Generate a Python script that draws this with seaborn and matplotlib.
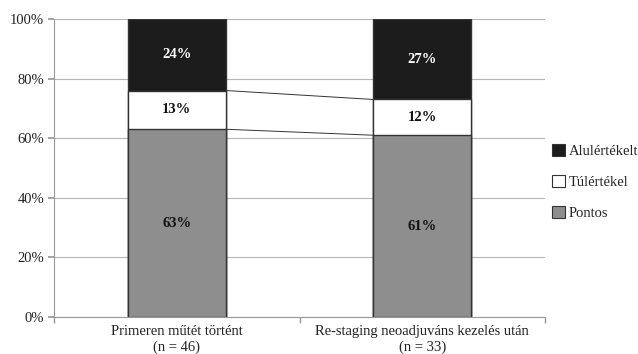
import numpy as np
import pandas as pd
import matplotlib
matplotlib.use("Agg")
import matplotlib.pyplot as plt
import seaborn as sns
from matplotlib.patches import Patch

categories = ["Primeren műtét történt\n(n = 46)",
              "Re-staging neoadjuváns kezelés után\n(n = 33)"]
series = ["Pontos", "Túlértékel", "Alulértékelt"]
pontos = [63, 61]
tulertekel = [13, 12]
alulertekelt = [24, 27]
yticks = [0, 20, 40, 60, 80, 100]

colors = {"Pontos": "#8e8e8e", "Túlértékel": "#ffffff", "Alulértékelt": "#1c1c1c"}
text_colors = {"Pontos": "#111111", "Túlértékel": "#111111", "Alulértékelt": "#ffffff"}

sns.set_theme(style="white")
plt.rcParams["font.family"] = ["Liberation Serif", "DejaVu Serif"]

values = {"Pontos": np.array(pontos), "Túlértékel": np.array(tulertekel),
          "Alulértékelt": np.array(alulertekelt)}
bottoms = {}
acc = np.zeros(len(categories))
for s in series:
    bottoms[s] = acc.copy()
    acc = acc + values[s]

fig = plt.figure(figsize=(6.38, 3.54), dpi=100)
ax = fig.add_axes([54 / 638, 37 / 354, 491 / 638, 298 / 354])

# stacked bars: draw cumulative tops from the highest segment down
for s in reversed(series):
    top = bottoms[s] + values[s]
    df = pd.DataFrame({"cat": categories, "val": top})
    sns.barplot(data=df, x="cat", y="val", ax=ax, color=colors[s],
                width=0.4, edgecolor="#333333", linewidth=1.0,
                saturation=1, errorbar=None)

# segment labels
for s in series:
    for i in range(len(categories)):
        y = bottoms[s][i] + values[s][i] / 2
        ax.text(i, y, f"{values[s][i]}%", ha="center", va="center",
                fontsize=10.5, fontweight="bold", color=text_colors[s])

# series lines between the stacks
half = 0.2
for s in ["Pontos", "Túlértékel"]:
    tops = bottoms[s] + values[s]
    ax.plot([0 + half, 1 - half], [tops[0], tops[1]], color="#333333",
            linewidth=0.7, zorder=3)

ax.set_ylim(0, 100)
ax.set_xlim(-0.5, 1.5)
ax.set_yticks(yticks)
ax.set_yticklabels([f"{v}%" for v in yticks], fontsize=10.5, color="#222222")
ax.yaxis.grid(True, color="#b5b5b5", linewidth=0.8)
ax.set_axisbelow(True)
ax.set_xlabel("")
ax.set_ylabel("")
ax.tick_params(axis="x", labelsize=10.5, colors="#222222", length=0, pad=6)
ax.tick_params(axis="y", left=True, length=4, color="#999999", pad=3)
for side in ["top", "right"]:
    ax.spines[side].set_visible(False)
for side in ["left", "bottom"]:
    ax.spines[side].set_color("#999999")
    ax.spines[side].set_linewidth(0.8)
# category boundary ticks
ax.set_xticks([-0.5, 0.5, 1.5], minor=True)
ax.tick_params(axis="x", which="minor", bottom=True, length=4, color="#999999")

handles = [Patch(facecolor=colors[s], edgecolor="#333333", linewidth=0.8)
           for s in reversed(series)]
leg = fig.legend(handles, list(reversed(series)), loc="upper left",
                 bbox_to_anchor=(552 / 638, 1 - 144 / 354), frameon=False,
                 borderpad=0, borderaxespad=0,
                 fontsize=10.5, handlelength=0.9, handleheight=0.9,
                 handletextpad=0.25, labelspacing=1.15)

fig.savefig("out.png", dpi=100)
